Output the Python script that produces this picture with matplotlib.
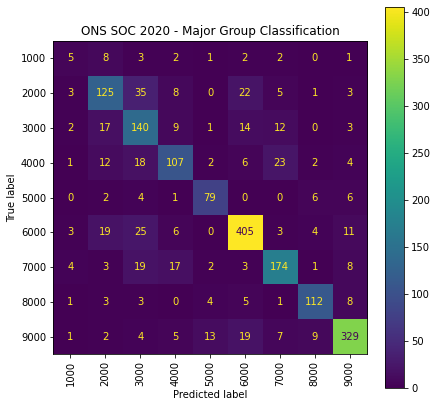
import matplotlib
matplotlib.use("Agg")
import matplotlib.pyplot as plt
import numpy as np

# SOC major group labels
labels = ["1000", "2000", "3000", "4000", "5000", "6000", "7000", "8000", "9000"]

# confusion matrix rows (true label)
row_1000 = [5, 8, 3, 2, 1, 2, 2, 0, 1]
row_2000 = [3, 125, 35, 8, 0, 22, 5, 1, 3]
row_3000 = [2, 17, 140, 9, 1, 14, 12, 0, 3]
row_4000 = [1, 12, 18, 107, 2, 6, 23, 2, 4]
row_5000 = [0, 2, 4, 1, 79, 0, 0, 6, 6]
row_6000 = [3, 19, 25, 6, 0, 405, 3, 4, 11]
row_7000 = [4, 3, 19, 17, 2, 3, 174, 1, 8]
row_8000 = [1, 3, 3, 0, 4, 5, 1, 112, 8]
row_9000 = [1, 2, 4, 5, 13, 19, 7, 9, 329]

cm = np.array([row_1000, row_2000, row_3000, row_4000, row_5000,
               row_6000, row_7000, row_8000, row_9000])

W, H = 437, 407
fig = plt.figure(figsize=(W / 72, H / 72), dpi=72)
ax = fig.add_axes([53 / W, (H - 354) / H, 314 / W, 313 / H])
cax = fig.add_axes([385 / W, (H - 388) / H, 19.3 / W, 381 / H])

im = ax.imshow(cm, interpolation="nearest", cmap="viridis", aspect="auto")
cmap_min, cmap_max = im.cmap(0), im.cmap(1.0)
thresh = (cm.max() + cm.min()) / 2.0

for i in range(cm.shape[0]):
    for j in range(cm.shape[1]):
        color = cmap_max if cm[i, j] < thresh else cmap_min
        ax.text(j, i, format(cm[i, j], "d"), ha="center", va="center", color=color)

cb = fig.colorbar(im, cax=cax)
cb.set_ticks(np.arange(0, 401, 50))

ax.set_xticks(np.arange(len(labels)))
ax.set_yticks(np.arange(len(labels)))
ax.set_xticklabels(labels, rotation="vertical")
ax.set_yticklabels(labels)
ax.set_xlabel("Predicted label")
ax.set_ylabel("True label")
ax.set_title("ONS SOC 2020 - Major Group Classification")

fig.savefig("out.png", dpi=72)
